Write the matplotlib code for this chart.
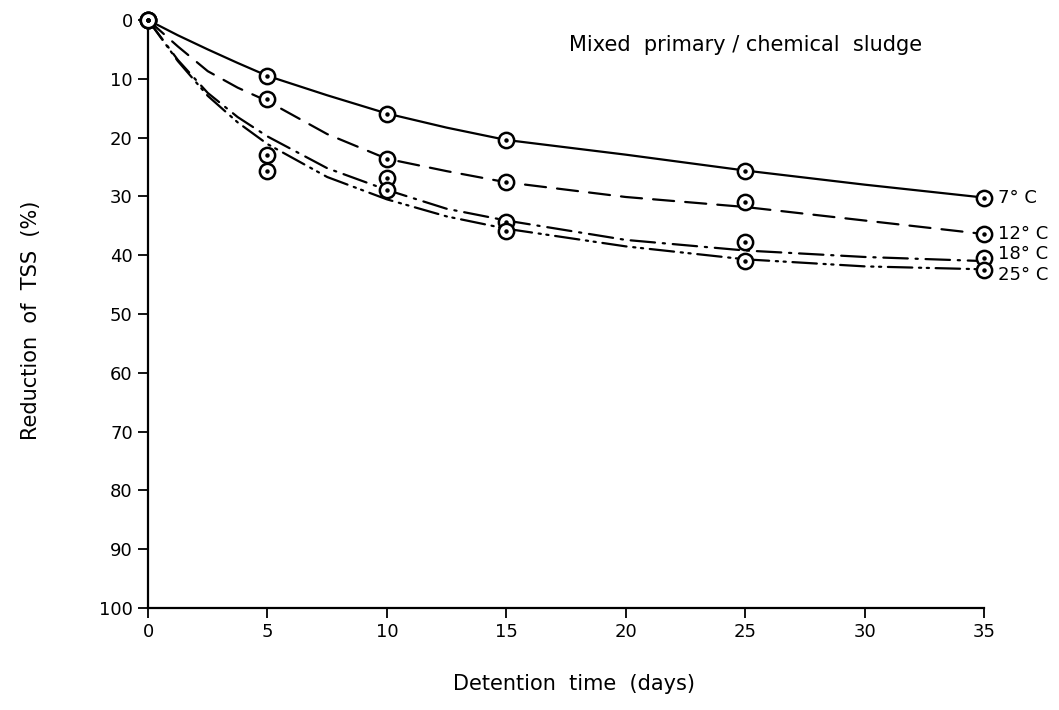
import matplotlib
matplotlib.use("Agg")
import matplotlib.pyplot as plt

plt.rcParams['font.family'] = ['DejaVu Sans']

# ---- data ----
days = [0, 5, 10, 15, 25, 35]
obs_7 = [0, 9.5, 15.9, 20.4, 25.6, 30.2]
obs_12 = [0, 13.4, 23.7, 27.6, 31.0, 36.4]
obs_18 = [0, 23.0, 26.9, 34.3, 37.8, 40.4]
obs_25 = [0, 25.7, 28.9, 35.8, 41.0, 42.6]

curve_days = [0, 1.25, 2.5, 3.75, 5, 7.5, 10, 12.5, 15, 20, 25, 30, 35]
curve_7 = [0, 2.6, 5.0, 7.3, 9.5, 12.8, 15.9, 18.3, 20.4, 22.9, 25.6, 28.0, 30.2]
curve_12 = [0, 4.5, 8.7, 11.5, 13.8, 19.4, 23.6, 25.7, 27.6, 30.1, 31.8, 34.1, 36.4]
curve_18 = [0, 6.8, 12.4, 16.5, 19.8, 25.2, 28.9, 32.1, 34.1, 37.4, 39.2, 40.3, 41.0]
curve_25 = [0, 7.0, 12.9, 17.4, 21.1, 26.7, 30.5, 33.4, 35.5, 38.5, 40.7, 41.9, 42.4]

series_labels = ["7° C", "12° C", "18° C", "25° C"]
title_text = "Mixed  primary / chemical  sludge"
x_ticks = [0, 5, 10, 15, 20, 25, 30, 35]
y_ticks = [0, 10, 20, 30, 40, 50, 60, 70, 80, 90, 100]

# ---- figure ----
fig = plt.figure(figsize=(10.59, 7.10), dpi=100)
ax = fig.add_axes([0.1398, 0.1437, 0.7894, 0.8281])

lw = 1.6
styles = [
    '-',
    (0, (9.5, 5.0)),
    (0, (11, 3.5, 1, 3.5)),
    (0, (11, 3.0, 1, 2.5, 1, 3.0)),
]
curves = [curve_7, curve_12, curve_18, curve_25]
obs = [obs_7, obs_12, obs_18, obs_25]

for cv, ls in zip(curves, styles):
    ax.plot(curve_days, cv, color='black', lw=lw, linestyle=ls, zorder=2,
            solid_capstyle='round', dash_capstyle='round')

for ob in obs:
    ax.plot(days, ob, linestyle='none', marker='o', markersize=11,
            markerfacecolor='white', markeredgecolor='black',
            markeredgewidth=1.8, zorder=3, clip_on=False)
    ax.plot(days, ob, linestyle='none', marker='o', markersize=2.2,
            color='black', zorder=4, clip_on=False)

label_offsets = [(10, 0), (10, 0), (10, 2.5), (10, -3)]
for ob, lab, off in zip(obs, series_labels, label_offsets):
    ax.annotate(lab, xy=(days[-1], ob[-1]), xytext=off,
                textcoords='offset points', ha='left', va='center',
                fontsize=13, annotation_clip=False)

ax.text(25, 4.3, title_text, ha='center', va='center', fontsize=15)

ax.set_xlim(0, 35)
ax.set_ylim(100, 0)
ax.set_xticks(x_ticks)
ax.set_yticks(y_ticks)
ax.tick_params(axis='both', direction='out', length=7, width=1.3,
               labelsize=13, pad=4)

for side in ['top', 'right']:
    ax.spines[side].set_visible(False)
for side in ['left', 'bottom']:
    ax.spines[side].set_linewidth(1.6)

ax.set_xlabel("Detention  time  (days)", fontsize=15)
ax.set_ylabel("Reduction  of  TSS  (%)", fontsize=15)
ax.xaxis.set_label_coords(0.51, -0.112)
ax.yaxis.set_label_coords(-0.128, 0.49)

fig.savefig("out.png", dpi=100, facecolor='white')
